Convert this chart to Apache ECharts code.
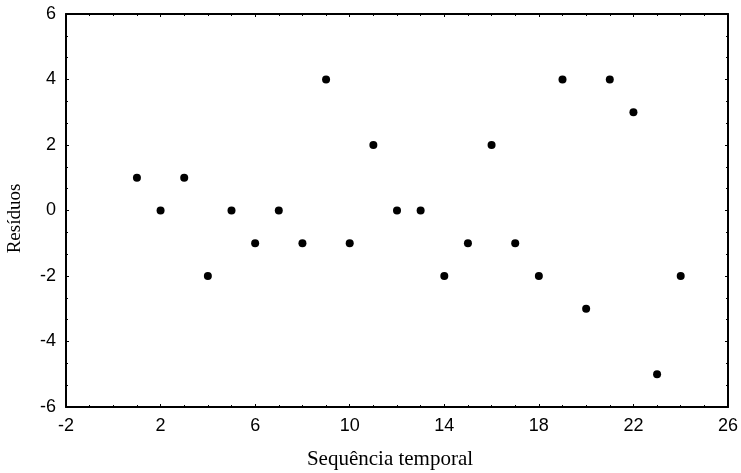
<!DOCTYPE html>
<html lang="en">
<head>
    <meta charset="UTF-8">
    <title>Resíduos</title>
    <script src="https://cdn.jsdelivr.net/npm/echarts@6/dist/echarts.min.js"></script>
</head>
<body style="margin: 0">
<div id="main" style="width: 741px;height: 473px"></div>
<script>
    // sequência temporal e resíduos
    const seq = [1, 2, 3, 4, 5, 6, 7, 8, 9, 10, 11, 12, 13, 14, 15, 16, 17, 18, 19, 20, 21, 22, 23, 24];
    const residuos = [1, 0, 1, -2, 0, -1, 0, -1, 4, -1, 2, 0, 0, -2, -1, 2, -1, -2, 4, -3, 4, 3, -5, -2];

    const points = seq.map((x, i) => [x, residuos[i]]);

    const chart = echarts.init(document.getElementById('main'));

    const lineStyle = {color: '#000', width: 2};
    const labelFont = {color: '#000', fontSize: 18, fontFamily: 'Liberation Sans, Arial, sans-serif'};

    function xAxisCfg(pos, show) {
        return {
            type: 'value', position: pos, min: -2, max: 26, interval: 4,
            axisLine: {show: true, onZero: false, lineStyle: lineStyle},
            axisTick: {show: true, inside: true, length: 3, lineStyle: {color: '#000'}},
            minorTick: {show: true, splitNumber: 4, length: 2, lineStyle: {color: '#000'}},
            axisLabel: {show: show, margin: 10, ...labelFont},
            splitLine: {show: false}
        };
    }

    function yAxisCfg(pos, show) {
        return {
            type: 'value', position: pos, min: -6, max: 6, interval: 2,
            axisLine: {show: true, onZero: false, lineStyle: lineStyle},
            axisTick: {show: true, inside: true, length: 3, lineStyle: {color: '#000'}},
            minorTick: {show: true, splitNumber: 3, length: 2, lineStyle: {color: '#000'}},
            axisLabel: {show: show, margin: 10, ...labelFont},
            splitLine: {show: false}
        };
    }

    const xb = xAxisCfg('bottom', true);
    xb.name = 'Sequência temporal';
    xb.nameLocation = 'middle';
    xb.nameGap = 42;
    xb.nameMoveOverlap = false;
    xb.nameTextStyle = {color: '#000', fontSize: 21, fontFamily: 'Liberation Serif, Times New Roman, serif', padding: [0, 14, 0, 0]};

    const yl = yAxisCfg('left', true);
    yl.name = 'Resíduos';
    yl.nameLocation = 'middle';
    yl.nameGap = 41;
    yl.nameMoveOverlap = false;
    yl.nameTextStyle = {color: '#000', fontSize: 19, fontFamily: 'Liberation Serif, Times New Roman, serif', padding: [0, 16, 0, 0]};

    const option = {
        animation: false,
        backgroundColor: '#fff',
        grid: {left: 66, right: 13, top: 14, bottom: 66, containLabel: false, outerBoundsMode: 'none'},
        xAxis: [xb, xAxisCfg('top', false)],
        yAxis: [yl, yAxisCfg('right', false)],
        series: [
            {
                type: 'scatter',
                data: points,
                symbolSize: 8,
                itemStyle: {color: '#000', opacity: 1}
            }
        ]
    };
    chart.setOption(option);
</script>
</body>
</html>
